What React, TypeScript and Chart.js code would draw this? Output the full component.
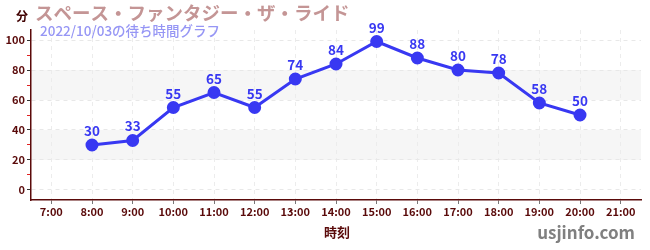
import React, { useEffect, useRef } from "react";
import { Chart, registerables } from "chart.js";

Chart.register(...registerables);

const hours = [8, 9, 10, 11, 12, 13, 14, 15, 16, 17, 18, 19, 20];
const waits = [30, 33, 55, 65, 55, 74, 84, 99, 88, 80, 78, 58, 50];
const xTickHours = [7, 8, 9, 10, 11, 12, 13, 14, 15, 16, 17, 18, 19, 20, 21];
const titleText = "スペース・ファンタジー・ザ・ライド";
const subtitleText = "2022/10/03の待ち時間グラフ";
const yUnit = "分";
const xTitle = "時刻";
const siteText = "usjinfo.com";
const bands: [number, number][] = [[20, 40], [60, 80]];

const FONT = "'Noto Sans CJK JP', 'Noto Sans', sans-serif";
const BLUE = "#3838f2";
const MAROON = "#5a0a0a";

const bandPlugin = {
  id: "bands",
  beforeDraw(chart: any) {
    const { ctx, chartArea, scales } = chart;
    const y = scales.y;
    ctx.save();
    ctx.fillStyle = "#f6f6f6";
    bands.forEach(([a, b]) => {
      const t = y.getPixelForValue(b);
      const bt = y.getPixelForValue(a);
      ctx.fillRect(chartArea.left, t, chartArea.right - chartArea.left, bt - t);
    });
    ctx.restore();
  },
};

const textPlugin = {
  id: "texts",
  afterDraw(chart: any) {
    const { ctx } = chart;
    ctx.save();
    ctx.textBaseline = "middle";
    ctx.textAlign = "left";
    ctx.fillStyle = "#c49595";
    ctx.font = `bold 18.5px ${FONT}`;
    ctx.fillText(titleText, 35, 13);
    ctx.fillStyle = "#9696f5";
    ctx.font = `500 13.5px ${FONT}`;
    ctx.fillText(subtitleText, 40, 31);
    ctx.fillStyle = "#400000";
    ctx.font = `bold 12px ${FONT}`;
    ctx.fillText(yUnit, 16, 16);
    ctx.textAlign = "center";
    ctx.fillStyle = MAROON;
    ctx.font = `bold 13px ${FONT}`;
    ctx.fillText(xTitle, 337, 232);
    ctx.textAlign = "right";
    ctx.fillStyle = "#808080";
    ctx.font = `bold 17px ${FONT}`;
    ctx.fillText(siteText, 635, 233);
    // data labels
    const meta = chart.getDatasetMeta(0);
    ctx.textAlign = "center";
    ctx.textBaseline = "alphabetic";
    ctx.fillStyle = BLUE;
    ctx.font = `bold 13.5px ${FONT}`;
    meta.data.forEach((pt: any, i: number) => {
      ctx.fillText(String(waits[i]), pt.x, pt.y - 9);
    });
    ctx.restore();
  },
};

export default function App() {
  const ref = useRef<HTMLCanvasElement>(null);
  useEffect(() => {
    if (!ref.current) return;
    const chart = new Chart(ref.current, {
      type: "line",
      data: {
        datasets: [
          {
            data: hours.map((h, i) => ({ x: h, y: waits[i] })),
            borderColor: BLUE,
            backgroundColor: BLUE,
            pointBackgroundColor: BLUE,
            pointBorderColor: BLUE,
            borderWidth: 3,
            pointRadius: 5,
            tension: 0,
          },
        ],
      },
      plugins: [bandPlugin, textPlugin],
      options: {
        animation: false,
        responsive: false,
        layout: { padding: { top: 30, right: 9, left: 0, bottom: 0 } },
        plugins: { legend: { display: false }, tooltip: { enabled: false } },
        scales: {
          x: {
            type: "linear",
            min: 6.5,
            max: 21.5,
            afterBuildTicks(scale: any) {
              scale.ticks = xTickHours.map((v) => ({ value: v }));
            },
            afterFit(scale: any) {
              scale.height = 50;
            },
            ticks: {
              autoSkip: false,
              maxRotation: 0,
              color: MAROON,
              font: { family: FONT, size: 11, weight: "bold" },
              padding: 1,
              callback: (v: any) => `${v}:00`,
            },
            grid: {
              color: "#ececec",
              tickColor: "#777",
              tickLength: 4,
            },
            border: { color: MAROON, width: 1.5, dash: [4, 4] as any },
          },
          y: {
            type: "linear",
            min: -6.67,
            max: 106.67,
            afterFit(scale: any) {
              scale.width = 31;
            },
            ticks: {
              stepSize: 10,
              includeBounds: false,
              autoSkip: false,
              color: MAROON,
              font: { family: FONT, size: 11, weight: "bold" },
              padding: 2,
              callback: (v: any) => (Math.round(v) % 20 === 0 ? String(v) : ""),
            },
            grid: {
              color: (c: any) =>
                Math.round(c.tick?.value ?? 1) % 20 === 0 ? "#e8e8e8" : "rgba(0,0,0,0)",
              tickColor: (c: any) =>
                Math.round(c.tick?.value ?? 1) % 20 === 0 ? "#333" : "#e02020",
              tickLength: 4,
            },
            border: { color: MAROON, width: 1.5, dash: [4, 4] as any },
          },
        },
      } as any,
    });
    return () => chart.destroy();
  }, []);
  return (
    <div style={{ position: "fixed", left: 0, top: 0, width: 650, height: 250, background: "#fff" }}>
      <canvas ref={ref} width={650} height={250} style={{ width: 650, height: 250 }} />
    </div>
  );
}
